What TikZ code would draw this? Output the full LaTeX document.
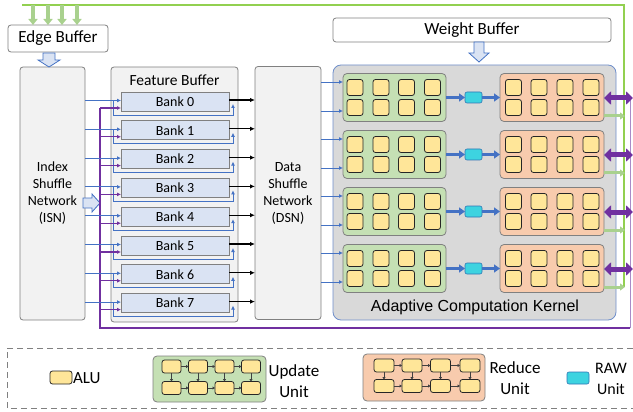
\documentclass[tikz,border=0pt]{standalone}
\usepackage{fontspec}
\setmainfont{Carlito}
\newfontfamily\arialf{Liberation Sans}
\usetikzlibrary{arrows.meta}
\definecolor{cblue}{HTML}{4472C4}
\definecolor{cpurple}{HTML}{7030A0}
\definecolor{clpurple}{HTML}{A98BC8}
\definecolor{cgreen}{HTML}{92D050}
\definecolor{cltgreen}{HTML}{A9D18E}
\definecolor{cgray}{HTML}{808080}
\definecolor{cpanel}{HTML}{F2F2F2}
\definecolor{cbank}{HTML}{DAE3F3}
\definecolor{cack}{HTML}{D9D9D9}
\definecolor{cackb}{HTML}{6F8FCB}
\definecolor{cupd}{HTML}{C5E0B4}
\definecolor{cred}{HTML}{F8CBAD}
\definecolor{calu}{HTML}{FFE699}
\definecolor{ccyan}{HTML}{3DD3E0}
\definecolor{craw}{HTML}{2F75B5}
\definecolor{cblk}{HTML}{404040}
\tikzset{
  every node/.style={inner sep=0pt, outer sep=0pt},
  wbox/.style={draw=cgray, line width=0.8pt, rounded corners=3pt, fill=white},
  gbox/.style={draw=cgray, line width=0.8pt, rounded corners=3pt, fill=cpanel},
  bankbox/.style={draw=cgray, line width=0.8pt, fill=cbank, minimum width=108pt, minimum height=19pt, font=\fontsize{14}{16}\selectfont},
  updunit/.style={draw=cgray, line width=0.8pt, fill=cupd, rounded corners=4pt, minimum width=103pt, minimum height=48pt},
  redunit/.style={draw=cgray, line width=0.8pt, fill=cred, rounded corners=4pt, minimum width=104pt, minimum height=48pt},
  alu/.style={draw=black!85, fill=calu, rounded corners=2.5pt, minimum size=16pt, line width=0.8pt},
  lalu/.style={draw=black!85, fill=calu, rounded corners=2.5pt, minimum width=19pt, minimum height=13pt, line width=0.8pt},
  rawunit/.style={draw=craw, fill=ccyan, rounded corners=2pt, minimum width=17pt, minimum height=11pt, line width=0.6pt},
  thinblue/.style={draw=cblue, line width=0.9pt},
  thinblueA/.style={draw=cblue, line width=0.9pt, -{Latex[length=4pt,width=4pt]}},
  purpA/.style={draw=cpurple, line width=1.3pt, -{Latex[length=4pt,width=4pt]}},
  blackA/.style={draw=black, line width=1.3pt, -{Latex[length=5pt,width=4.5pt]}},
  fatblue/.style={draw=cblue, line width=2.6pt, -{Triangle[length=6pt,width=8pt]}},
  purpdbl/.style={draw=cpurple, line width=5pt, {Triangle[length=7pt,width=13pt]}-{Triangle[length=7pt,width=13pt]}},
  greenA/.style={draw=cltgreen, line width=3pt, -{Triangle[length=5pt,width=7pt]}},
  topgreenA/.style={draw=cltgreen, line width=4pt, -{Triangle[length=6pt,width=9pt]}},
  blockarrow/.style={draw=cblue, fill=cbank, line width=0.8pt, line join=miter},
  smallA/.style={draw=cblk, line width=0.6pt, -{Triangle[length=2.5pt,width=3pt]}},
  legtext/.style={font=\fontsize{17}{21}\selectfont, align=center}
}
\begin{document}
\begin{tikzpicture}[x=1pt, y=-1pt]
\useasboundingbox (0,0) rectangle (633,412);
% top green feed line
\coordinate (gtl) at (22,5);
\coordinate (gtr) at (624,5);
\coordinate (gbr) at (624,287);
\draw[cgreen, line width=2.5pt] (gtl) -- (gtr) -- (gbr);
% Edge buffer
\node[wbox, minimum width=100pt, minimum height=27pt, font=\fontsize{17}{20}\selectfont] (eb) at (58,38.5) {Edge Buffer};
\foreach \x [count=\k] in {33,48,62,77} {
  \coordinate (ga\k) at (\x,5);
  \draw[topgreenA] (ga\k) -- (ga\k |- eb.north);
}
% ISN
\node[gbox, minimum width=65pt, minimum height=253pt, align=center, font=\fontsize{14}{17}\selectfont] (isn) at (52.5,193.5) {Index\\Shuffle\\Network\\(ISN)};
% Feature buffer
\node[gbox, minimum width=127pt, minimum height=255pt] (fb) at (174.5,194.5) {};
\node[font=\fontsize{15.5}{18}\selectfont] (fbt) at (174.5,80) {Feature Buffer};
% DSN
\node[gbox, minimum width=66pt, minimum height=253pt, align=center, font=\fontsize{14}{17}\selectfont] (dsn) at (288,193) {Data\\Shuffle\\Network\\(DSN)};
% block arrows
\coordinate (eba) at (49,53);
\begin{scope}[shift={(eba)}]
\draw[blockarrow] (-6,0) -- (6,0) -- (6,7) -- (11,7) -- (0,14) -- (-11,7) -- (-6,7) -- cycle;
\end{scope}
\coordinate (isa) at (83,203);
\begin{scope}[shift={(isa)}]
\draw[blockarrow] (0,-5) -- (9,-5) -- (9,-9) -- (17,0) -- (9,9) -- (9,5) -- (0,5) -- cycle;
\end{scope}
% purple bus
\coordinate (pv0) at (100,108);
\coordinate (pv1) at (100,328);
\coordinate (pv2) at (630,328);
\coordinate (pv3) at (630,98);
\draw[cpurple, line width=1.3pt] (pv0) -- (pv1) -- (pv2);
\draw[clpurple, line width=1pt] (pv2) -- (pv3);
% banks
\foreach \i in {0,...,7} {
  \pgfmathsetmacro\by{101.5+28.8*\i}
  \node[bankbox] (b\i) at (175,\by) {Bank \i};
  \coordinate (bin\i) at (121,\by-1);
  \coordinate (bl\i) at (113,\by-1);
  \coordinate (bl2\i) at (113,\by+13.5);
  \coordinate (bl3\i) at (233,\by+13.5);
  \coordinate (bl4\i) at (233,\by+2.5);
  \coordinate (bp\i) at (121,\by+6.5);
  \coordinate (bo\i) at (229,\by-1.5);
  \draw[thinblueA] (isn.east |- bin\i) -- (bin\i);
  \draw[thinblueA] (bl\i) -- (bl2\i) -- (bl3\i) -- (bl4\i);
  \draw[purpA] (pv0 |- bp\i) -- (bp\i);
  \draw[blackA] (bo\i) -- (dsn.west |- bo\i);
}
% weight buffer
\node[wbox, minimum width=278pt, minimum height=24pt, font=\fontsize{17}{20}\selectfont] (wb) at (472,30) {Weight Buffer};
% ACK
\node[draw=cackb, line width=0.8pt, fill=cack, rounded corners=8pt, minimum width=283pt, minimum height=255pt] (ack) at (474.5,192.5) {};
\node[font=\arialf\fontsize{16}{19}\selectfont] (ackt) at (475,307) {Adaptive Computation Kernel};
\coordinate (wba) at (479,42);
\begin{scope}[shift={(wba)}]
\draw[blockarrow] (-5,0) -- (5,0) -- (5,11) -- (10,11) -- (0,20) -- (-10,11) -- (-5,11) -- cycle;
\end{scope}
% units
\foreach \i in {0,...,3} {
  \pgfmathsetmacro\cy{97.5+57*\i}
  \node[updunit] (u\i) at (394.5,\cy) {};
  \node[redunit] (r\i) at (552,\cy) {};
  \node[rawunit] (w\i) at (473.5,\cy) {};
  \foreach \c [count=\k] in {355,381,406.5,432.5} {
    \node[alu] (ua\i\k) at (\c,\cy-10) {};
    \node[alu] (ub\i\k) at (\c,\cy+10) {};
  }
  \foreach \c [count=\k] in {513.5,539,565,591} {
    \node[alu] (ra\i\k) at (\c,\cy-10) {};
    \node[alu] (rb\i\k) at (\c,\cy+10) {};
  }
  \draw[fatblue] (u\i.east) -- (w\i.west);
  \draw[fatblue] (w\i.east) -- (r\i.west);
  \coordinate (in1\i) at (343,\cy-15.5);
  \coordinate (in2\i) at (343,\cy+13.5);
  \draw[thinblueA] (dsn.east |- in1\i) -- (in1\i);
  \draw[thinblueA] (dsn.east |- in2\i) -- (in2\i);
  \coordinate (pd\i) at (633,\cy+0.5);
  \draw[purpdbl] (r\i.east |- pd\i) -- (pd\i);
  \coordinate (gd\i) at (625,\cy+18.5);
  \draw[greenA] (r\i.east |- gd\i) -- (gd\i);
}
% legend
\coordinate (lg1) at (633,348);
\coordinate (lg2) at (7,348);
\coordinate (lg3) at (7,408);
\coordinate (lg4) at (633,408);
\draw[cgray, line width=1pt, dash pattern=on 6pt off 4pt] (lg1) -- (lg2) -- (lg3) -- (lg4);
\node[draw=black!85, fill=calu, rounded corners=2.5pt, line width=0.8pt, minimum width=22pt, minimum height=13pt] (lalu) at (61,377.5) {};
\node[legtext, anchor=west] (laluT) at (73,378) {ALU};
% legend update unit
\node[draw=cgray, line width=0.8pt, fill=cupd, rounded corners=4pt, minimum width=113pt, minimum height=46pt] (lu) at (209.5,379) {};
\foreach \c [count=\k] in {171.5,198,224.5,251} {
  \node[lalu] (lut\k) at (\c,366.5) {};
  \node[lalu] (lub\k) at (\c,388) {};
  \draw[smallA] (lut\k) -- (lub\k);
}
\foreach \k [evaluate=\k as \n using int(\k+1)] in {1,2,3} {
  \draw[smallA] (lut\k) -- (lut\n);
  \draw[smallA] (lub\k) -- (lub\n);
}
\node[legtext] (luT) at (294,381.5) {Update\\Unit};
% legend reduce unit
\node[draw=cgray, line width=0.8pt, fill=cred, rounded corners=4pt, minimum width=122pt, minimum height=47pt] (lr) at (424,377.5) {};
\foreach \c [count=\k] in {384,412,440.5,470} {
  \node[lalu, minimum width=20pt] (lrt\k) at (\c,365.5) {};
  \node[lalu, minimum width=20pt] (lrb\k) at (\c,386) {};
  \draw[smallA] (lrt\k) -- (lrb\k);
}
\foreach \k [evaluate=\k as \n using int(\k+1)] in {1,2,3} {
  \draw[smallA] (lrt\k) -- (lrt\n);
  \draw[smallA] (lrb\k) -- (lrb\n);
}
\node[legtext] (lrT) at (515,378.5) {Reduce\\Unit};
% legend raw
\node[draw=craw, fill=ccyan, rounded corners=2pt, line width=0.6pt, minimum width=22pt, minimum height=12pt] (lw) at (578,378) {};
\node[legtext, font=\fontsize{16}{21}\selectfont] (lwT) at (611,378.5) {RAW\\Unit};
\end{tikzpicture}
\end{document}
